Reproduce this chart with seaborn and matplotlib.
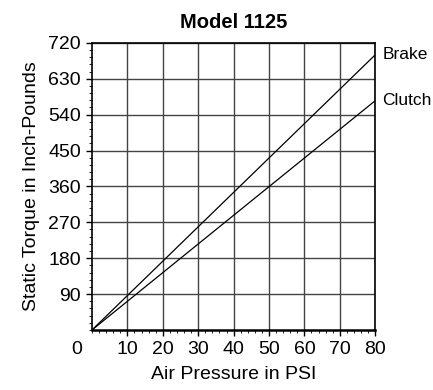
import numpy as np
import matplotlib
matplotlib.use("Agg")
import matplotlib.pyplot as plt
import seaborn as sns
import pandas as pd
from matplotlib.ticker import MultipleLocator

# Data
pressure = [0, 80]
brake = [0, 690]
clutch = [0, 575]
x_ticks = [10, 20, 30, 40, 50, 60, 70, 80]
y_ticks = [90, 180, 270, 360, 450, 540, 630, 720]

sns.set_theme(style="white")
plt.rcParams["font.family"] = ["Liberation Sans", "DejaVu Sans"]
plt.rcParams["text.color"] = "black"
plt.rcParams["axes.labelcolor"] = "black"
plt.rcParams["xtick.color"] = "black"
plt.rcParams["ytick.color"] = "black"

df = pd.concat([
    pd.DataFrame({"psi": pressure, "torque": brake, "series": "Brake"}),
    pd.DataFrame({"psi": pressure, "torque": clutch, "series": "Clutch"}),
])

fig = plt.figure(figsize=(4.33, 3.90), dpi=100)
ax = fig.add_axes([0.2125, 0.154, 0.654, 0.736])

sns.lineplot(data=df, x="psi", y="torque", units="series", estimator=None,
             color="black", linewidth=0.9, ax=ax, legend=False)

ax.set_xlim(0, 80)
ax.set_ylim(0, 720)
ax.set_xticks(x_ticks)
ax.set_yticks(y_ticks)
ax.xaxis.set_minor_locator(MultipleLocator(2))
ax.yaxis.set_minor_locator(MultipleLocator(18))
ax.grid(True, which="major", color="#444444", linewidth=1.0)
ax.set_axisbelow(True)
for s in ax.spines.values():
    s.set_color("black")
    s.set_linewidth(1.2)
ax.spines["bottom"].set_linewidth(1.8)
ax.tick_params(axis="both", which="major", length=4, width=1,
               labelsize=14, direction="out", pad=4, bottom=True, left=True)
ax.tick_params(axis="both", which="minor", length=2, width=0.6,
               direction="out", bottom=True, left=True)
# shared origin label sits at the lower-left corner
ax.annotate("0", xy=(0, 0), xytext=(-11, -8), textcoords="offset points",
            ha="center", va="top", fontsize=14, annotation_clip=False)

ax.set_xlabel("Air Pressure in PSI", fontsize=14, labelpad=6)
ax.set_ylabel("Static Torque in Inch-Pounds", fontsize=14, labelpad=6)
ax.set_title("Model 1125", fontsize=14.5, fontweight="bold", pad=11)

for name, vals in [("Brake", brake), ("Clutch", clutch)]:
    ax.annotate(name, xy=(pressure[-1], vals[-1]), xytext=(5, 0),
                textcoords="offset points", ha="left", va="center",
                fontsize=12.5, annotation_clip=False)

fig.savefig("out.png", dpi=100)
